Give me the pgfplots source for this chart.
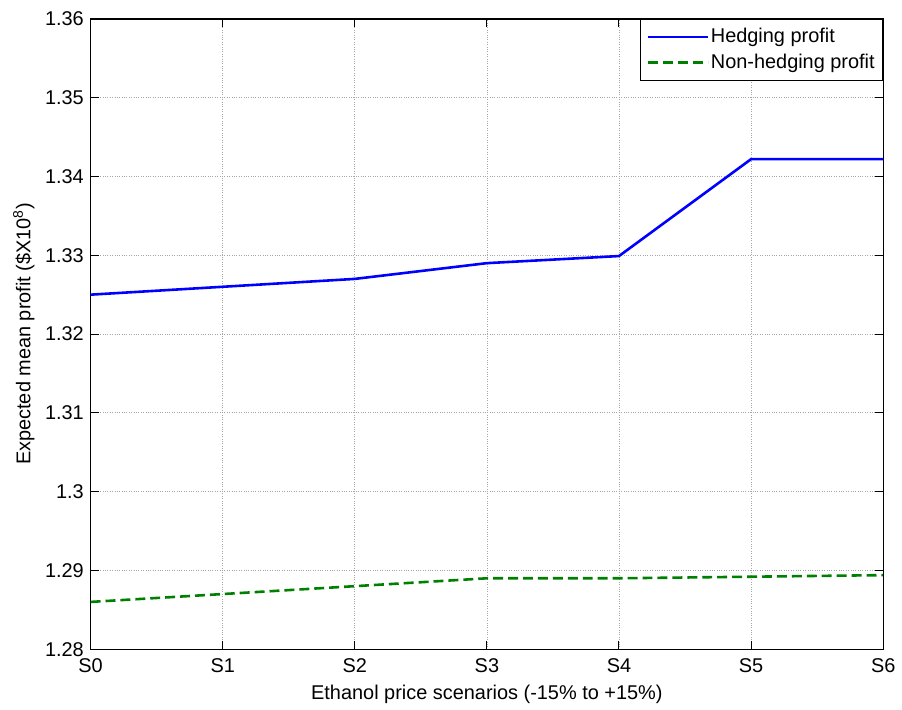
\documentclass[border=0pt]{standalone}
\usepackage{pgfplots}
\pgfplotsset{compat=1.18}
\usepackage{fontspec}
\setmainfont{Liberation Sans}
\definecolor{mblue}{RGB}{0,0,255}
\definecolor{mgreen}{RGB}{0,128,0}
\begin{document}
\fontsize{20}{23}\selectfont
\begin{tikzpicture}
\begin{axis}[
  at={(0,0)}, anchor=south west,
  scale only axis, width=796pt, height=633pt,
  xmin=0, xmax=6, ymin=1.28, ymax=1.36,
  xtick={0,1,2,3,4,5,6},
  xticklabels={S0,S1,S2,S3,S4,S5,S6},
  ytick={1.28,1.29,1.30,1.31,1.32,1.33,1.34,1.35,1.36},
  yticklabel style={/pgf/number format/.cd, fixed, precision=2},
  xticklabel style={yshift=-3pt},
  /pgf/number format/assume math mode=true,
  tick label style={font=\fontsize{20}{23}\selectfont},
  label style={font=\fontsize{20}{23}\selectfont},
  xlabel={Ethanol price scenarios (-15\% to +15\%)},
  ylabel={Expected mean profit (\$X10\textsuperscript{8})},
  xlabel style={yshift=2pt},
  ylabel style={yshift=-3pt},
  tick align=inside, tick pos=both,
  major tick length=8pt,
  every tick/.style={black, line width=1pt},
  axis line style={black, line width=1.3pt},
  grid=major,
  major grid style={dotted, gray!70, line width=0.8pt},
  legend style={at={(1,1)}, anchor=north east, draw=black, line width=1pt,
    font=\fontsize{20}{23}\selectfont, cells={anchor=west},
    inner xsep=6pt, inner ysep=7pt, row sep=4pt},
  legend cell align=left,
  legend image code/.code={\draw[#1] (0pt,0pt) -- (60pt,0pt);},
]
\addplot[mblue, line width=2.6pt] coordinates {
  (0,1.3250) (1,1.3260) (2,1.3270) (3,1.3290) (4,1.3299) (5,1.3422) (6,1.3422)};
\addlegendentry{Hedging profit}
\addplot[mgreen, line width=2.6pt, dash pattern=on 10pt off 5pt] coordinates {
  (0,1.2860) (1,1.2870) (2,1.2880) (3,1.2890) (4,1.2890) (5,1.2892) (6,1.2894)};
\addlegendentry{Non-hedging profit}
\end{axis}
\path[use as bounding box] (-91pt,-53pt) rectangle (811pt,652pt);
\end{tikzpicture}
\end{document}
